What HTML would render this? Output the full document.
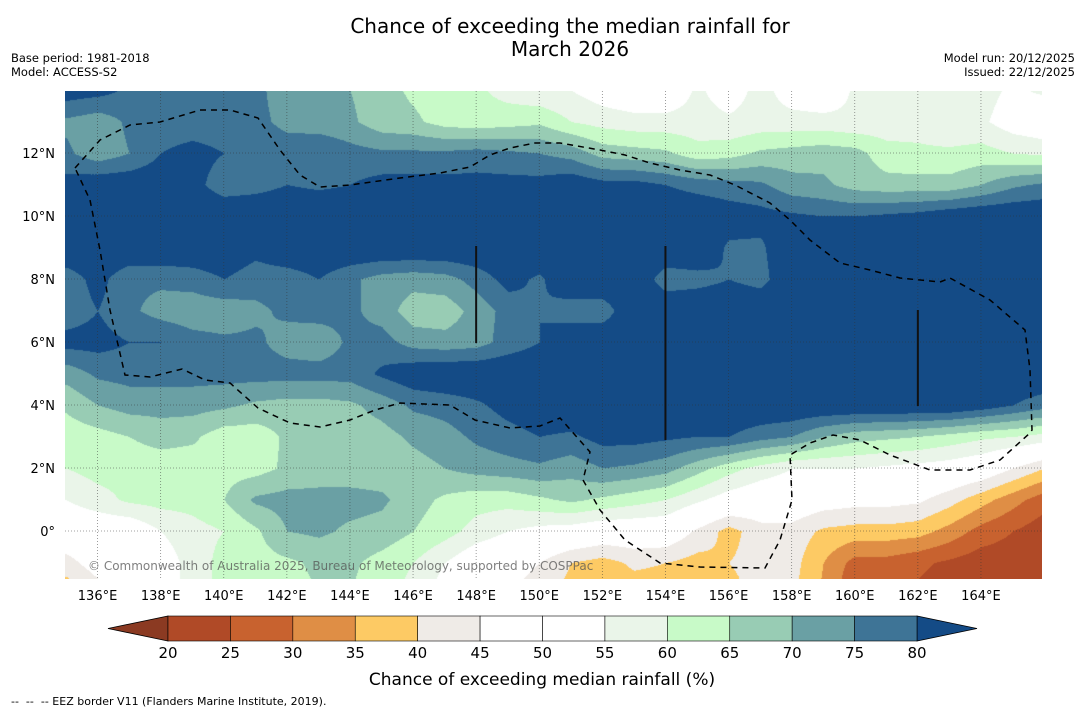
<!DOCTYPE html>
<html><head><meta charset="utf-8">
<style>
body{margin:0;background:#fff;font-family:"DejaVu Sans","Liberation Sans",sans-serif;}
#wrap{position:relative;width:1085px;height:713px;overflow:hidden;background:#fff}
.t{position:absolute;white-space:nowrap;color:#000}
svg text{font-family:"DejaVu Sans","Liberation Sans",sans-serif}
</style></head><body>
<div id="wrap">
<div class="t" style="left:220px;width:700px;top:15px;text-align:center;font-size:20px;line-height:23px">Chance of exceeding the median rainfall for<br>March 2026</div>
<div class="t" style="left:11px;top:51px;font-size:11.5px;line-height:14px">Base period: 1981-2018<br>Model: ACCESS-S2</div>
<div class="t" style="right:10px;top:51px;font-size:11.5px;line-height:14px;text-align:right">Model run: 20/12/2025<br>Issued: 22/12/2025</div>
<canvas id="map" width="977" height="488" style="position:absolute;left:65px;top:91px"></canvas>
<svg id="ov" width="1085" height="713" style="position:absolute;left:0;top:0"></svg>
<div class="t" style="left:11px;top:695px;font-size:11px">-- &nbsp;-- &nbsp;-- EEZ border V11 (Flanders Marine Institute, 2019).</div>
</div>
<script>
const lons=[135,136,137,138,139,140,141,142,143,144,145,146,147,148,149,150,151,152,153,154,155,156,157,158,159,160,161,162,163,164,165,166];
const lats=[14,13,12,11,10,9,8,7,6,5,4,3,2,1,0,-1,-2];
const r14=[83,82,79,77,77,77,76,73,73,70,67,64,62,61,58,56,55,52,50,50,56,52,57,52,50,56,57,57,57,57,54,56];
const r13=[74,72,76,77,77,77,76,74,72,71,67,66,63,62,63,64,60,58,57,57,57,56,57,57,57,56,57,58,56,56,52,50];
const r12=[76,72,75,80,82,80,77,77,80,77,76,76,76,77,76,75,73,68,67,66,62,63,66,67,68,67,62,61,61,62,60,59];
const r11=[82,84,84,84,82,77,78,80,79,80,82,82,82,82,82,82,84,82,82,80,78,77,76,72,71,68,67,67,67,70,74,76];
const r10=[85,85,85,85,85,85,85,85,85,85,85,85,85,85,85,85,85,85,85,85,85,83,82,81,80,80,81,82,84,85,85,85];
const r9=[85,85,85,85,85,85,82,85,85,85,85,85,85,85,85,85,85,85,85,85,85,79,79,85,85,85,85,85,85,85,85,85];
const r8=[77,82,76,76,77,80,77,77,80,76,73,72,73,77,82,79,85,85,85,77,78,80,78,85,85,85,85,85,85,85,85,85];
const r7=[77,80,76,73,72,72,74,76,77,76,73,67,67,72,77,80,77,77,85,85,85,85,85,85,85,85,85,85,85,85,85,85];
const r6=[82,82,80,80,77,76,76,73,72,76,77,73,72,73,77,80,85,85,85,85,85,85,85,85,85,85,85,85,85,85,85,85];
const r5=[72,76,77,77,77,77,77,77,77,77,81,84,85,85,85,85,85,85,85,85,85,85,85,85,85,85,85,85,85,85,85,85];
const r4=[66,70,72,72,72,71,69,68,68,69,72,76,77,79,82,84,85,85,85,85,85,85,85,85,85,85,85,85,85,83,80,77];
const r3=[62,63,65,67,66,62,62,66,67,67,68,71,73,76,78,80,79,82,82,81,80,80,77,75,70,67,66,65,63,61,60,58];
const r2=[60,62,62,62,62,63,63,66,67,67,67,68,70,72,73,74,72,75,74,72,67,62,58,55,55,55,54,53,52,50,45,40];
const r1=[55,58,61,62,62,65,71,72,72,72,71,67,64,62,62,64,66,64,62,60,56,52,50,50,48,47,47,46,42,37,32,27];
const r0=[50,50,50,55,58,60,64,70,71,69,68,65,62,58,55,53,52,50,50,50,44,38,43,43,39,38,38,37,33,28,25,22];
const rm1=[43,48,50,52,57,62,63,64,66,66,63,60,55,50,48,45,40,38,41,40,38,40,42,42,35,28,28,26,24,22,22,21];
const rm2=[36,42,48,52,57,62,62,63,65,65,62,58,52,48,45,42,38,36,37,37,37,38,42,41,34,25,26,24,22,21,21,20];
const grid=[r14,r13,r12,r11,r10,r9,r8,r7,r6,r5,r4,r3,r2,r1,r0,rm1,rm2];
const levels=[20,25,30,35,40,45,50,55,60,65,70,75,80];
const binColors=["#8b3a22","#b04a27","#c8622f","#df8e45","#fdca64","#efebe7","#ffffff","#ffffff","#eaf5e9","#c8fac8","#98ccb4","#6aa0a4","#3e7496","#144b86"];
const lonTicks=[136,138,140,142,144,146,148,150,152,154,156,158,160,162,164];
const latTicks=[12,10,8,6,4,2,0];

const X0=65,Y0=91,W=977,H=488;
const pxPerDeg=31.55;
function xOf(lon){return 66+(lon-135)*pxPerDeg;}
function yOf(lat){return 90+(14-lat)*31.5;}
function hex(c){return [parseInt(c.substr(1,2),16),parseInt(c.substr(3,2),16),parseInt(c.substr(5,2),16)];}
const rgb=binColors.map(hex);
function bin(v){let b=0;while(b<levels.length&&v>=levels[b])b++;return b;}

const cv=document.getElementById('map'),ctx=cv.getContext('2d');
const img=ctx.createImageData(W,H);
for(let py=0;py<H;py++){
  const lat=14-((py+Y0)-90)/31.5;
  let fi=(lats[0]-lat);fi=Math.max(0,Math.min(lats.length-1.001,fi));
  const i=Math.floor(fi),ti=fi-i;
  for(let px=0;px<W;px++){
    const lon=135+((px+X0)-66)/pxPerDeg;
    let fj=lon-lons[0];fj=Math.max(0,Math.min(lons.length-1.001,fj));
    const j=Math.floor(fj),tj=fj-j;
    const v=(grid[i][j]*(1-tj)+grid[i][j+1]*tj)*(1-ti)+(grid[i+1][j]*(1-tj)+grid[i+1][j+1]*tj)*ti;
    const c=rgb[bin(v)];const k=(py*W+px)*4;
    img.data[k]=c[0];img.data[k+1]=c[1];img.data[k+2]=c[2];img.data[k+3]=255;
  }
}
ctx.putImageData(img,0,0);

const NS='http://www.w3.org/2000/svg';
const svg=document.getElementById('ov');
function mk(tag,attrs,parent){const e=document.createElementNS(NS,tag);for(const k in attrs)e.setAttribute(k,attrs[k]);(parent||svg).appendChild(e);return e;}

lonTicks.forEach(l=>{
  const ln=mk('line',{x1:xOf(l),x2:xOf(l),y1:Y0,y2:Y0+H,stroke:'#333',"stroke-width":0.8,"stroke-dasharray":'1,2',opacity:0.6});
  
  
  const t=mk('text',{x:xOf(l),y:600,"text-anchor":'middle',"font-size":13,fill:'#000'});
  t.textContent=l+'°E';
  
  
});
latTicks.forEach(l=>{
  const ln=mk('line',{x1:X0,x2:X0+W,y1:yOf(l),y2:yOf(l),stroke:'#333',"stroke-width":0.8,"stroke-dasharray":'1,2',opacity:0.6});
  
  
  const t=mk('text',{x:55,y:yOf(l)+5,"text-anchor":'end',"font-size":13,fill:'#000'});
  t.textContent=l===0?'0°':l+'°N';
  
  
});

const eez="75,168 100,140 130,125 160,122 200,110 230,110 258,118 280,150 300,175 320,187 350,185 400,178 440,173 470,167 490,155 510,148 535,143 560,143 600,150 625,155 650,163 680,170 710,175 735,185 770,203 790,220 810,240 840,263 870,270 900,278 940,282 950,278 990,300 1025,330 1030,370 1032,430 1030,433 1000,460 970,470 930,470 890,455 860,440 833,435 810,443 790,455 792,500 780,540 765,568 700,567 660,563 625,540 600,510 583,480 590,452 575,435 560,418 540,426 510,428 475,420 450,405 400,403 375,410 350,420 320,427 290,423 258,408 230,383 205,380 182,369 150,377 125,375 110,310 100,250 90,200 75,168";
const eezLine=mk('polyline',{points:eez,fill:'none',stroke:'#000',"stroke-width":1.5,"stroke-dasharray":'6,5'});


[[xOf(148),246,343],[xOf(154),246,440],[xOf(162),310,406]].forEach(s=>{
  const l=mk('line',{x1:s[0],x2:s[0],y1:s[1],y2:s[2],stroke:'#111',"stroke-width":2});
  
  
});
const cp=mk('text',{x:88,y:570,"font-size":12,fill:'#555',opacity:0.75});
cp.textContent='© Commonwealth of Australia 2025, Bureau of Meteorology, supported by COSPPac';



const cbL=168,cbR=917,cbT=616,cbB=641;
function cbX(v){return cbL+(v-levels[0])/(levels[levels.length-1]-levels[0])*(cbR-cbL);}
const lt=mk('polygon',{points:`108,${(cbT+cbB)/2} ${cbL},${cbT} ${cbL},${cbB}`,fill:binColors[0],stroke:'#000',"stroke-width":0.8});


const rt=mk('polygon',{points:`977,${(cbT+cbB)/2} ${cbR},${cbT} ${cbR},${cbB}`,fill:binColors[binColors.length-1],stroke:'#000',"stroke-width":0.8});


for(let b=0;b<levels.length-1;b++){
  const r=mk('rect',{x:cbX(levels[b]),y:cbT,width:cbX(levels[b+1])-cbX(levels[b]),height:cbB-cbT,fill:binColors[b+1],stroke:'#000',"stroke-width":0.6});
  
  
}
levels.forEach(v=>{
  const t=mk('text',{x:cbX(v),y:658,"text-anchor":'middle',"font-size":15,fill:'#000'});
  t.textContent=v;
  
  
});
const ct=mk('text',{x:542,y:685,"text-anchor":'middle',"font-size":17,fill:'#000'});
ct.textContent='Chance of exceeding median rainfall (%)';


</script>
</body></html>
